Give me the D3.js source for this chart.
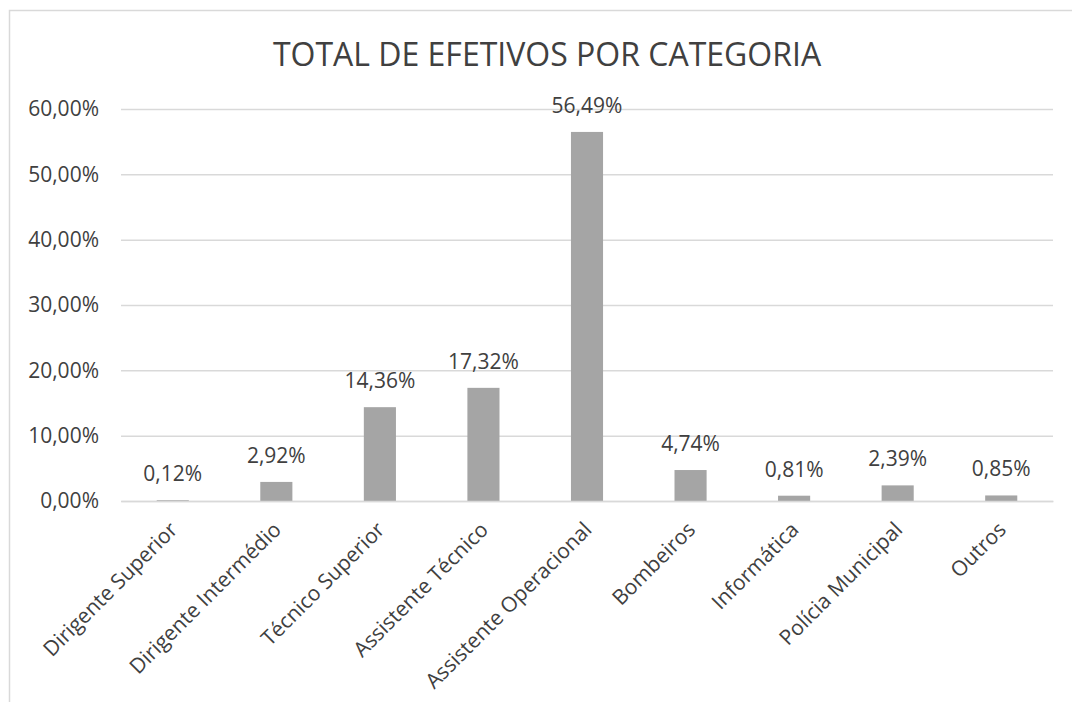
<!DOCTYPE html>
<html>
<head>
<meta charset="utf-8">
<script src="https://cdn.jsdelivr.net/npm/d3@7"></script>
<style>
  body { margin: 0; background: #fff; }
  text { font-family: "Open Sans", "Noto Sans", sans-serif; fill: #404040; }
</style>
</head>
<body>
<div class="main-chart"></div>
<script>
// dados do gráfico
const categories = ['Dirigente Superior', 'Dirigente Intermédio', 'Técnico Superior', 'Assistente Técnico',
  'Assistente Operacional', 'Bombeiros', 'Informática', 'Polícia Municipal', 'Outros'];
const values = [0.12, 2.92, 14.36, 17.32, 56.49, 4.74, 0.81, 2.39, 0.85];
const yTicks = [0, 10, 20, 30, 40, 50, 60];
const title = 'TOTAL DE EFETIVOS POR CATEGORIA';

const W = 1072, H = 702;
const plot = {left: 121, right: 1053, top: 109, bottom: 501};
const fmt = v => v.toFixed(2).replace('.', ',') + '%';

const svg = d3.select('.main-chart').append('svg')
  .attr('width', W)
  .attr('height', H);

// moldura do gráfico
svg.append('rect')
  .attr('x', 9.5).attr('y', 10.5)
  .attr('width', 1100).attr('height', 720)
  .attr('fill', 'none')
  .attr('stroke', '#d9d9d9')
  .attr('stroke-width', 1.5);

svg.append('text')
  .attr('x', 547).attr('y', 66)
  .attr('text-anchor', 'middle')
  .style('font-size', '32px')
  .text(title);

const x = d3.scaleBand().domain(categories)
  .range([plot.left, plot.right])
  .paddingInner(0.69).paddingOuter(0.345);
const y = d3.scaleLinear().domain([0, 60]).range([plot.bottom, plot.top]);

// linhas de grelha e eixo y
const yAxis = svg.append('g')
  .attr('transform', `translate(${plot.left},0)`)
  .call(d3.axisLeft(y).tickValues(yTicks).tickSize(-(plot.right - plot.left)).tickPadding(22).tickFormat(fmt));
yAxis.select('.domain').remove();
yAxis.selectAll('line').attr('stroke', '#d9d9d9').attr('stroke-width', 1.5);
yAxis.selectAll('text').style('font-size', '21px').attr('fill', '#404040');

// barras
svg.selectAll('.bar')
  .data(values)
  .enter().append('rect')
  .attr('class', 'bar')
  .attr('x', (d, i) => x(categories[i]))
  .attr('y', d => y(d))
  .attr('width', x.bandwidth())
  .attr('height', d => plot.bottom - y(d))
  .attr('fill', '#a5a5a5');

// rótulos de dados
svg.selectAll('.lbl')
  .data(values)
  .enter().append('text')
  .attr('class', 'lbl')
  .attr('x', (d, i) => x(categories[i]) + x.bandwidth() / 2)
  .attr('y', d => y(d) - 19)
  .attr('text-anchor', 'middle')
  .style('font-size', '21px')
  .text(fmt);

// eixo x
const xAxis = svg.append('g')
  .attr('transform', `translate(0,${plot.bottom})`)
  .call(d3.axisBottom(x).tickSize(0).tickPadding(0));
xAxis.select('.domain').attr('stroke', '#d9d9d9').attr('stroke-width', 1.5);
xAxis.selectAll('text')
  .style('font-size', '21px')
  .attr('fill', '#404040')
  .attr('text-anchor', 'end')
  .attr('dy', 0)
  .attr('transform', 'translate(6,30) rotate(-45)');
</script>
</body>
</html>
